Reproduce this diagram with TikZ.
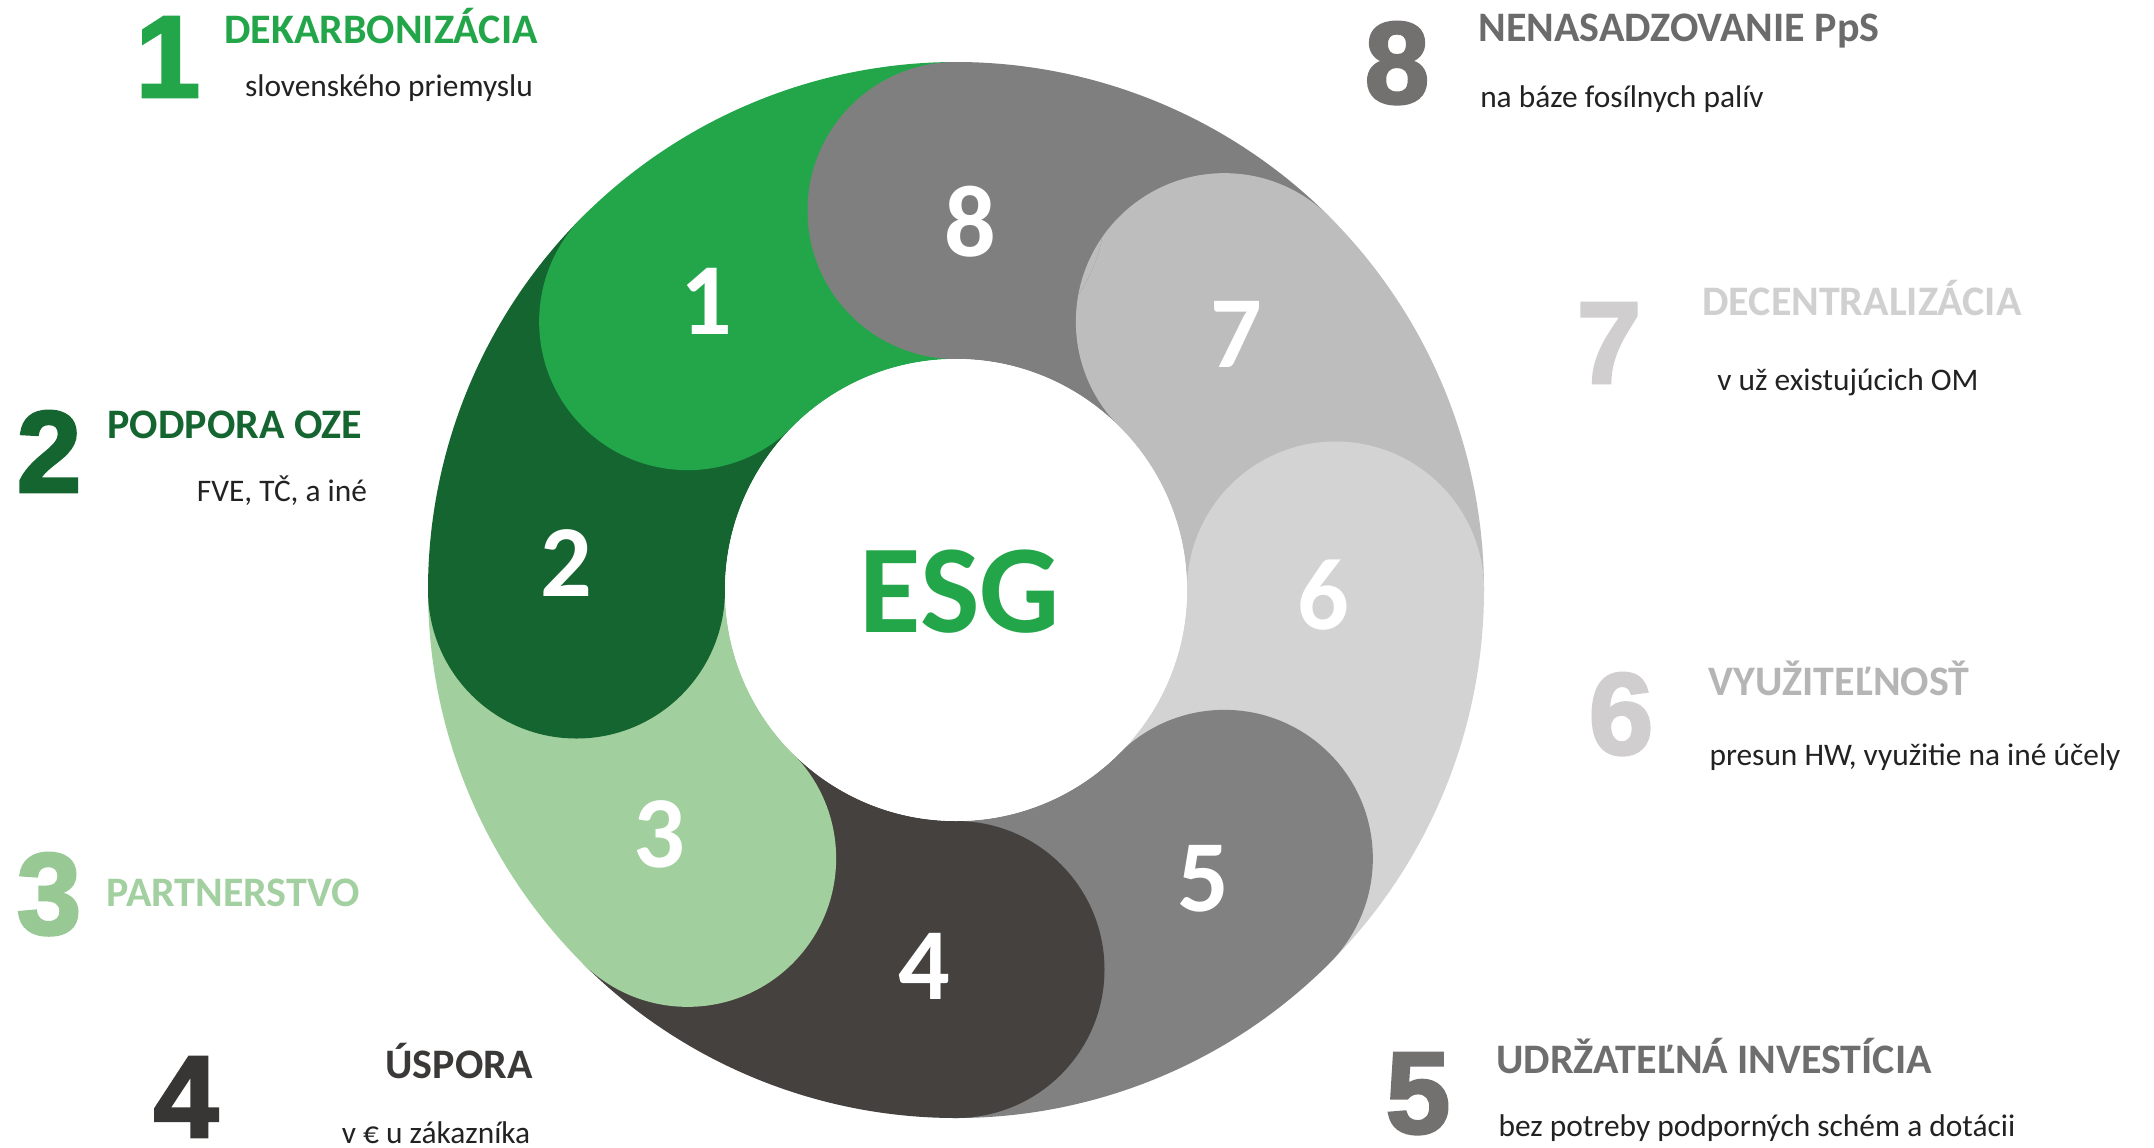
\documentclass[tikz,border=0pt]{standalone}
\usepackage{fontspec}
\setmainfont{Carlito}
\newfontfamily\bigdig{Liberation Sans}[BoldFeatures={FakeBold=2.5}]
\definecolor{g1}{HTML}{23A64A}
\definecolor{g2}{HTML}{156530}
\definecolor{g3}{HTML}{A1CF9D}
\definecolor{c4}{HTML}{45413E}
\definecolor{c5}{HTML}{818181}
\definecolor{c6}{HTML}{D4D3D4}
\definecolor{c7}{HTML}{BDBDBD}
\definecolor{c8}{HTML}{7F7F7F}
\definecolor{t3}{HTML}{98C994}
\definecolor{t3b}{HTML}{A3D0A0}
\definecolor{t4}{HTML}{383635}
\definecolor{t4b}{HTML}{3B3838}
\definecolor{t5}{HTML}{737070}
\definecolor{t5b}{HTML}{6E6E6E}
\definecolor{t6}{HTML}{D0CECE}
\definecolor{t6b}{HTML}{B5B5B5}
\definecolor{t7b}{HTML}{D0D0D0}
\definecolor{t8b}{HTML}{6B6B6B}
\definecolor{subc}{HTML}{222222}
\begin{document}
\begin{tikzpicture}[x=0.5pt,y=0.5pt,
  bignum/.style={inner sep=0pt, anchor=base, font=\bigdig\bfseries\fontsize{58}{58}\selectfont},
  ttl/.style={inner sep=0pt, anchor=base, font=\bfseries\fontsize{21}{21}\selectfont},
  subtxt/.style={inner sep=0pt, anchor=base, text=subc, font=\fontsize{15.7}{15.7}\selectfont},
  ringnum/.style={inner sep=0pt, text=white, font=\bfseries\fontsize{51}{51}\selectfont}]
\useasboundingbox (0,0) rectangle (2154,-1147);
\fill[white] (0,0) rectangle (2154,-1147);

% ring
\begin{scope}[shift={(956,-590)}]
  \foreach \a/\c in {135/g1,180/g2,225/g3,270/c4,315/c5,360/c6,45/c7,90/c8}
    \fill[\c] (\a-45:264pt) arc[start angle=\a-45,end angle=\a,radius=264pt]
      -- (\a:115.5pt) arc[start angle=\a,end angle=\a-45,radius=115.5pt] -- cycle;
  \foreach \a/\c in {45/c7,0/c6,315/c5,270/c4,225/g3,180/g2,135/g1,90/c8}
    \fill[\c] (\a:189.75pt) circle[radius=74.25pt];
  % disk 7 lies over disk 8
  \begin{scope}
    \clip (90:189.75pt) circle[radius=74.25pt];
    \fill[c7] (45:189.75pt) circle[radius=74.25pt];
  \end{scope}
\end{scope}
\node[circle, fill=white, minimum size=231pt, inner sep=0pt] (hub) at (956,-590) {};
\node[inner sep=0pt, text=g1, font=\bfseries\fontsize{63}{63}\selectfont] (esg) at (960,-592) {ESG};

% ring numbers
\node[ringnum] (n1) at (706,-301) {1};
\node[ringnum] (n2) at (566,-563) {2};
\node[ringnum] (n3) at (659,-834) {3};
\node[ringnum] (n4) at (924,-966) {4};
\node[ringnum] (n5) at (1203,-879) {5};
\node[ringnum] (n6) at (1323,-595) {6};
\node[ringnum] (n7) at (1236,-334) {7};
\node[ringnum] (n8) at (970,-222) {8};

% left side
\node[bignum, text=g1] (b1) at (168,-97) {1};
\node[ttl, text=g1] (h1) at (381,-43) {DEKARBONIZÁCIA};
\node[subtxt] (s1) at (389,-96) {slovenského priemyslu};

\node[bignum, text=g2] (b2) at (49,-492) {2};
\node[ttl, text=g2] (h2) at (235,-438) {PODPORA OZE};
\node[subtxt] (s2) at (282,-501) {FVE, TČ, a iné};

\node[bignum, text=t3] (b3) at (49,-934) {3};
\node[ttl, text=t3b] (h3) at (233,-906) {PARTNERSTVO};

\node[bignum, text=t4] (b4) at (186,-1137) {4};
\node[ttl, text=t4b] (h4) at (459,-1078) {ÚSPORA};
\node[subtxt] (s4) at (436,-1143) {v € u zákazníka};

% right side
\node[bignum, text=t5] (b5) at (1418,-1133) {5};
\node[ttl, text=t5b] (h5) at (1714,-1073) {UDRŽATEĽNÁ INVESTÍCIA};
\node[subtxt] (s5) at (1757,-1136) {bez potreby podporných schém a dotácii};

\node[bignum, text=t6] (b6) at (1621,-754) {6};
\node[ttl, text=t6b] (h6) at (1839,-695) {VYUŽITEĽNOSŤ};
\node[subtxt] (s6) at (1915,-765) {presun HW, využitie na iné účely};

\node[bignum, text=t6] (b7) at (1609,-383) {7};
\node[ttl, text=t7b] (h7) at (1862,-315) {DECENTRALIZÁCIA};
\node[subtxt] (s7) at (1848,-390) {v už existujúcich OM};

\node[bignum, text=t5] (b8) at (1397,-103) {8};
\node[ttl, text=t8b] (h8) at (1679,-41) {NENASADZOVANIE PpS};
\node[subtxt] (s8) at (1622,-107) {na báze fosílnych palív};
\end{tikzpicture}
\end{document}
